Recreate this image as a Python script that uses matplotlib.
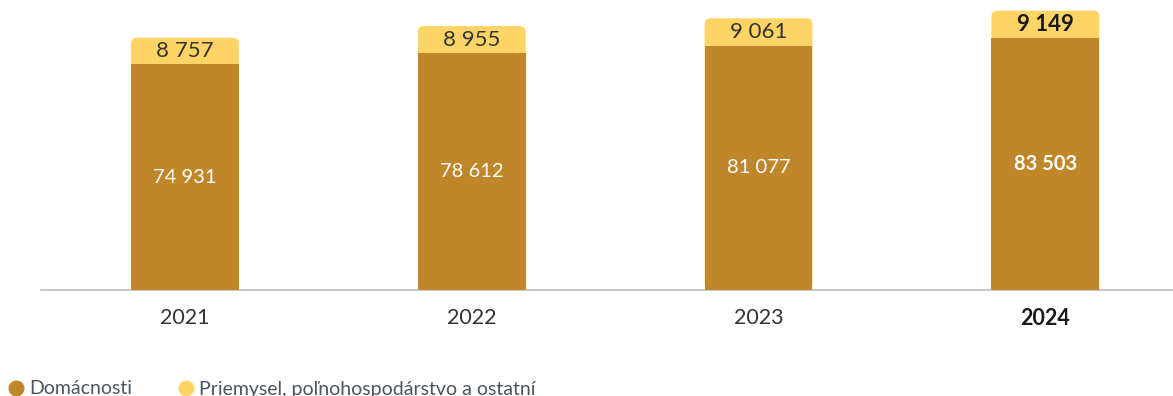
import matplotlib
matplotlib.use("Agg")
import matplotlib.pyplot as plt
from matplotlib.patches import FancyBboxPatch
from matplotlib.lines import Line2D
import numpy as np

plt.rcParams['font.family'] = ['Lato', 'DejaVu Sans']

years = ["2021", "2022", "2023", "2024"]
domacnosti = [74931, 78612, 81077, 83503]
priemysel = [8757, 8955, 9061, 9149]

brown = "#C0862A"
yellow = "#FFD466"


def fmt(v):
    return f"{v:,}".replace(",", " ")


fig = plt.figure(figsize=(11.73, 3.96), dpi=100)
ax = fig.add_axes([41 / 1173, 106 / 396, 1132 / 1173, 290 / 396])
x = np.arange(len(years))
width = 0.376
ax.set_xlim(-0.502, 3.445)
ax.set_ylim(0, 96200)

# aspect between x and y data units, used to keep the rounded corners circular
fig.canvas.draw()
px_x = ax.transData.transform((1, 0))[0] - ax.transData.transform((0, 0))[0]
px_y = ax.transData.transform((0, 1000))[1] - ax.transData.transform((0, 0))[1]
aspect = (1000 / px_y) / (1 / px_x)
rad = 6 / px_x

for i in range(len(years)):
    bold = i == len(years) - 1
    # yellow top segment with rounded corners, brown bar drawn over its lower corners
    top = FancyBboxPatch((x[i] - width / 2, 0), width, domacnosti[i] + priemysel[i],
                         boxstyle=f"round,pad=0,rounding_size={rad}",
                         mutation_aspect=aspect, fc=yellow, ec="none", zorder=2)
    ax.add_patch(top)
    ax.bar(x[i], domacnosti[i], width, color=brown, zorder=3)
    ax.text(x[i], domacnosti[i] / 2, fmt(domacnosti[i]), ha="center", va="center",
            color="white", fontsize=14.5, fontweight="bold" if bold else "normal", zorder=4)
    ax.text(x[i], domacnosti[i] + priemysel[i] / 2, fmt(priemysel[i]), ha="center",
            va="center", color="#1a1a1a" if bold else "#333333", fontsize=16,
            fontweight="bold" if bold else "normal", zorder=4)

ax.set_xticks(x)
ax.set_xticklabels(years, fontsize=15.5, color="#333333")
ax.get_xticklabels()[-1].set_fontweight("bold")
ax.get_xticklabels()[-1].set_color("#1a1a1a")
ax.tick_params(axis="x", length=0, pad=13)
ax.set_yticks([])
for s in ["top", "right", "left"]:
    ax.spines[s].set_visible(False)
ax.spines["bottom"].set_color("#BDBDBD")
ax.spines["bottom"].set_linewidth(1.2)
ax.patch.set_visible(False)

handles = [Line2D([], [], marker="o", ls="none", color=brown, markersize=10.5),
           Line2D([], [], marker="o", ls="none", color=yellow, markersize=10.5)]
fig.legend(handles, ["Domácnosti", "Priemysel, poľnohospodárstvo a ostatní"],
           loc="center left", bbox_to_anchor=(4 / 1173, 7 / 396), ncol=2, frameon=False,
           borderpad=0, borderaxespad=0, handletextpad=0.1, columnspacing=2.15,
           handlelength=1.2, prop={"size": 14}, labelcolor="#4a5560")

fig.savefig("out.png", dpi=100)
